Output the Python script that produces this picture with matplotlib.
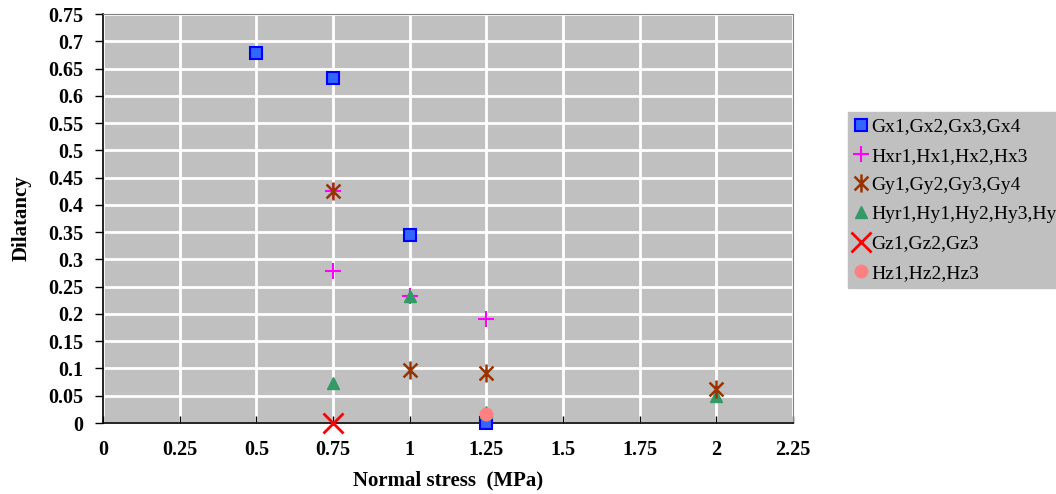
import matplotlib
matplotlib.use("Agg")
import matplotlib.pyplot as plt
from matplotlib.path import Path

# Data
gx_x = [0.5, 0.75, 1.0, 1.25]
gx_y = [0.678, 0.633, 0.344, 0.0]
hx_x = [0.75, 0.75, 1.0, 1.25]
hx_y = [0.425, 0.279, 0.232, 0.19]
gy_x = [0.75, 1.0, 1.25, 2.0]
gy_y = [0.425, 0.098, 0.091, 0.063]
hy_x = [0.75, 1.0, 1.25, 2.0]
hy_y = [0.073, 0.233, 0.021, 0.049]
gz_x = [0.75]
gz_y = [0.0]
hz_x = [1.25]
hz_y = [0.016]

labels = ["Gx1,Gx2,Gx3,Gx4", "Hxr1,Hx1,Hx2,Hx3", "Gy1,Gy2,Gy3,Gy4",
          "Hyr1,Hy1,Hy2,Hy3,Hy4", "Gz1,Gz2,Gz3", "Hz1,Hz2,Hz3"]
xticks = [0, 0.25, 0.5, 0.75, 1, 1.25, 1.5, 1.75, 2, 2.25]
xticklabels = ["0", "0.25", "0.5", "0.75", "1", "1.25", "1.5", "1.75", "2", "2.25"]
yticks = [0, 0.05, 0.1, 0.15, 0.2, 0.25, 0.3, 0.35, 0.4, 0.45, 0.5, 0.55, 0.6, 0.65, 0.7, 0.75]
yticklabels = ["0", "0.05", "0.1", "0.15", "0.2", "0.25", "0.3", "0.35", "0.4", "0.45",
               "0.5", "0.55", "0.6", "0.65", "0.7", "0.75"]

plt.rcParams['font.family'] = ['Liberation Serif', 'DejaVu Serif']

star = Path([(-1, -1), (1, 1), (-1, 1), (1, -1), (0, -1.3), (0, 1.3)],
            [Path.MOVETO, Path.LINETO, Path.MOVETO, Path.LINETO, Path.MOVETO, Path.LINETO])

fig = plt.figure(figsize=(10.56, 4.94), dpi=100)
ax = fig.add_axes([103/1056, 1-423/494, 690/1056, 409/494])
ax.set_facecolor('#c0c0c0')

ax.plot(gx_x, gx_y, ls='none', marker='s', ms=8, mfc='#3366ff', mec='#0000ff', mew=1.5,
        label=labels[0], zorder=3, clip_on=False)
ax.plot(hx_x, hx_y, ls='none', marker='+', ms=11, mec='#ff00ff', mew=1.5,
        label=labels[1], zorder=3, clip_on=False)
ax.plot(gy_x, gy_y, ls='none', marker=star, ms=13, mec='#993300', mew=1.8,
        label=labels[2], zorder=4, clip_on=False)
ax.plot(hy_x, hy_y, ls='none', marker='^', ms=9, mfc='#339966', mec='#339966',
        label=labels[3], zorder=3, clip_on=False)
ax.plot(gz_x, gz_y, ls='none', marker='x', ms=14, mec='#ff0000', mew=2,
        label=labels[4], zorder=5, clip_on=False)
ax.plot(hz_x, hz_y, ls='none', marker='o', ms=9, mfc='#ff8080', mec='#ff8080',
        label=labels[5], zorder=5, clip_on=False)

ax.set_xlim(0, 2.25)
ax.set_ylim(0, 0.75)
ax.set_xticks(xticks)
ax.set_xticklabels(xticklabels, fontsize=14.5, fontweight='bold')
ax.set_yticks(yticks)
ax.set_yticklabels(yticklabels, fontsize=14.5, fontweight='bold')
ax.tick_params(axis='x', direction='in', length=5, width=1, pad=12)
ax.tick_params(axis='y', direction='out', length=6, width=1, pad=8)
ax.grid(True, color='white', lw=2)
ax.set_axisbelow(True)
for s in ['top', 'right']:
    ax.spines[s].set_color('#808080')
for s in ['left', 'bottom']:
    ax.spines[s].set_color('black')
    ax.spines[s].set_linewidth(1.2)

ax.set_xlabel("Normal stress  (MPa)", fontsize=15, fontweight='bold', labelpad=8)
ax.set_ylabel("Dilatancy", fontsize=15, fontweight='bold', labelpad=12)

leg = fig.legend(loc='upper left', bbox_to_anchor=(848/1056, 1-112/494),
                 fontsize=14, frameon=True, facecolor='#c0c0c0', edgecolor='#c0c0c0',
                 framealpha=1, fancybox=False, handlelength=0.7, handletextpad=0.2,
                 labelspacing=0.6, borderpad=0.3, borderaxespad=0)

fig.savefig("out.png", dpi=100)
